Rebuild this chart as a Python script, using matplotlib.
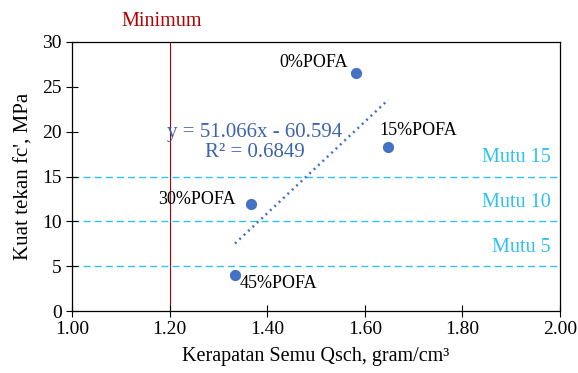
import matplotlib.pyplot as plt
import numpy as np

plt.rcParams["font.family"] = ["Liberation Serif", "DejaVu Serif"]
plt.rcParams["font.size"] = 14

# data
labels = ["0%POFA", "15%POFA", "30%POFA", "45%POFA"]
density = [1.582, 1.648, 1.367, 1.334]
strength = [26.5, 18.3, 11.9, 4.0]

slope, intercept = 51.066, -60.594
r2 = 0.6849

mutu_levels = [15, 10, 5]
mutu_names = ["Mutu 15", "Mutu 10", "Mutu 5"]
minimum_x = 1.2

xticks = [1.00, 1.20, 1.40, 1.60, 1.80, 2.00]
yticks = [0, 5, 10, 15, 20, 25, 30]

point_color = "#4472C4"
mutu_color = "#2EC2F2"
min_color = "#B00000"

fig = plt.figure(figsize=(5.78, 3.73), dpi=100)
ax = fig.add_axes([0.1246, 0.1662, 0.8443, 0.7212])

ax.scatter(density, strength, s=50, color=point_color, zorder=3)

# linear trendline over data range
xs = np.array([min(density), max(density)])
ax.plot(xs, slope * xs + intercept, color=point_color, lw=1.8,
        linestyle=(0, (0.8, 1.6)), zorder=2)

for lvl, name in zip(mutu_levels, mutu_names):
    ax.axhline(lvl, color=mutu_color, lw=1.0, linestyle=(0, (5, 3)), zorder=1)
    ax.text(1.980, lvl + 2.1, name, color=mutu_color, ha="right",
            va="center", fontsize=14.5)

ax.axvline(minimum_x, color=min_color, lw=0.8, zorder=1)
ax.text(1.184, 32.3, "Minimum", color=min_color, ha="center",
        va="center", fontsize=14.5, clip_on=False)

# point labels (x, y, ha)
label_pos = {
    "0%POFA": (1.566, 27.7, "right"),
    "15%POFA": (1.629, 20.1, "left"),
    "30%POFA": (1.336, 12.4, "right"),
    "45%POFA": (1.344, 3.1, "left"),
}
for lab in labels:
    lx, ly, ha = label_pos[lab]
    ax.text(lx, ly, lab, ha=ha, va="center", fontsize=13)

ax.text(1.374, 18.8, f"y = {slope:.3f}x - {abs(intercept):.3f}\nR² = {r2:.4f}",
        color="#3B64AD", ha="center", va="center", fontsize=15,
        linespacing=1.05)

ax.set_xlim(1.0, 2.0)
ax.set_ylim(0, 30)
ax.set_xticks(xticks)
ax.set_xticklabels([f"{t:.2f}" for t in xticks])
ax.set_yticks(yticks)
ax.tick_params(direction="inout", length=8, width=0.8, labelsize=14)
for sp in ax.spines.values():
    sp.set_linewidth(0.9)

ax.set_xlabel("Kerapatan Semu Qsch, gram/cm³", fontsize=14.5, labelpad=6)
ax.set_ylabel("Kuat tekan fc', MPa", fontsize=15, labelpad=6)

fig.savefig("out.png", dpi=100)
